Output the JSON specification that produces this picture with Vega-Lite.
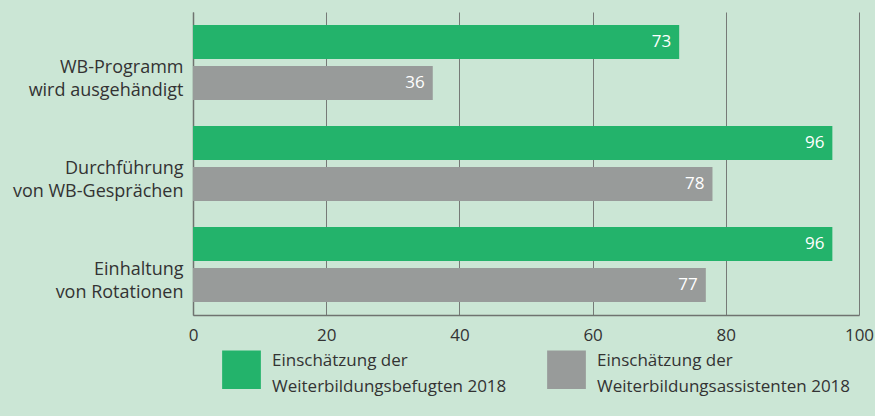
{
  "$schema": "https://vega.github.io/schema/vega-lite/v6.json",
  "width": 666,
  "height": 303,
  "autosize": {"type": "none"},
  "padding": {"left": 193, "top": 12, "right": 16, "bottom": 101},
  "background": "#cbe6d5",
  "config": {"view": {"stroke": null}, "font": "Open Sans", "style": {"guide-label": {"lineHeight": 26}}},
  "data": {
    "values": [
      {"cat": "WB-Programm|wird ausgehändigt", "grp": "Einschätzung der|Weiterbildungsbefugten 2018", "value": 73},
      {"cat": "WB-Programm|wird ausgehändigt", "grp": "Einschätzung der|Weiterbildungsassistenten 2018", "value": 36},
      {"cat": "Durchführung|von WB-Gesprächen", "grp": "Einschätzung der|Weiterbildungsbefugten 2018", "value": 96},
      {"cat": "Durchführung|von WB-Gesprächen", "grp": "Einschätzung der|Weiterbildungsassistenten 2018", "value": 78},
      {"cat": "Einhaltung|von Rotationen", "grp": "Einschätzung der|Weiterbildungsbefugten 2018", "value": 96},
      {"cat": "Einhaltung|von Rotationen", "grp": "Einschätzung der|Weiterbildungsassistenten 2018", "value": 77}
    ]
  },
  "encoding": {
    "y": {
      "field": "cat", "type": "nominal",
      "sort": ["WB-Programm|wird ausgehändigt", "Durchführung|von WB-Gesprächen", "Einhaltung|von Rotationen"],
      "scale": {"paddingInner": 0, "paddingOuter": 0},
      "axis": {
        "title": null, "ticks": false, "domainColor": "#6f7370", "domainWidth": 1.5,
        "labelExpr": "split(datum.label, '|')", "labelFontSize": 18, "labelColor": "#333333",
        "labelPadding": 10, "labelOffset": 5, "labelLineHeight": 23, "labelLimit": 300
      }
    },
    "yOffset": {
      "field": "grp", "type": "nominal",
      "sort": ["Einschätzung der|Weiterbildungsbefugten 2018", "Einschätzung der|Weiterbildungsassistenten 2018"],
      "scale": {"paddingInner": 0.17, "paddingOuter": 0.317}
    },
    "x": {
      "field": "value", "type": "quantitative",
      "scale": {"domain": [0, 100]},
      "axis": {
        "title": null, "values": [0, 20, 40, 60, 80, 100], "ticks": false,
        "grid": true, "gridColor": "#767a77", "gridWidth": 1,
        "domainColor": "#6f7370", "domainWidth": 1.5, "labelFlush": false,
        "labelFontSize": 17, "labelColor": "#333333", "labelPadding": 12
      }
    }
  },
  "layer": [
    {
      "mark": {"type": "bar"},
      "encoding": {
        "color": {
          "field": "grp", "type": "nominal",
          "sort": ["Einschätzung der|Weiterbildungsbefugten 2018", "Einschätzung der|Weiterbildungsassistenten 2018"],
          "scale": {"range": ["#23b36b", "#989b9a"]},
          "legend": {
            "title": null, "orient": "none", "legendX": 29, "legendY": 338,
            "direction": "horizontal", "symbolType": "square", "symbolSize": 1500,
            "symbolStrokeWidth": 0, "symbolOpacity": 1,
            "labelExpr": "split(datum.label, '|')", "labelFontSize": 17, "labelColor": "#333333",
            "labelBaseline": "bottom",
            "labelOffset": 11, "labelLimit": 400, "columnPadding": 40
          }
        }
      }
    },
    {
      "mark": {"type": "text", "align": "right", "dx": -8, "color": "white", "fontSize": 17},
      "encoding": {"text": {"field": "value", "type": "quantitative"}}
    }
  ]
}
